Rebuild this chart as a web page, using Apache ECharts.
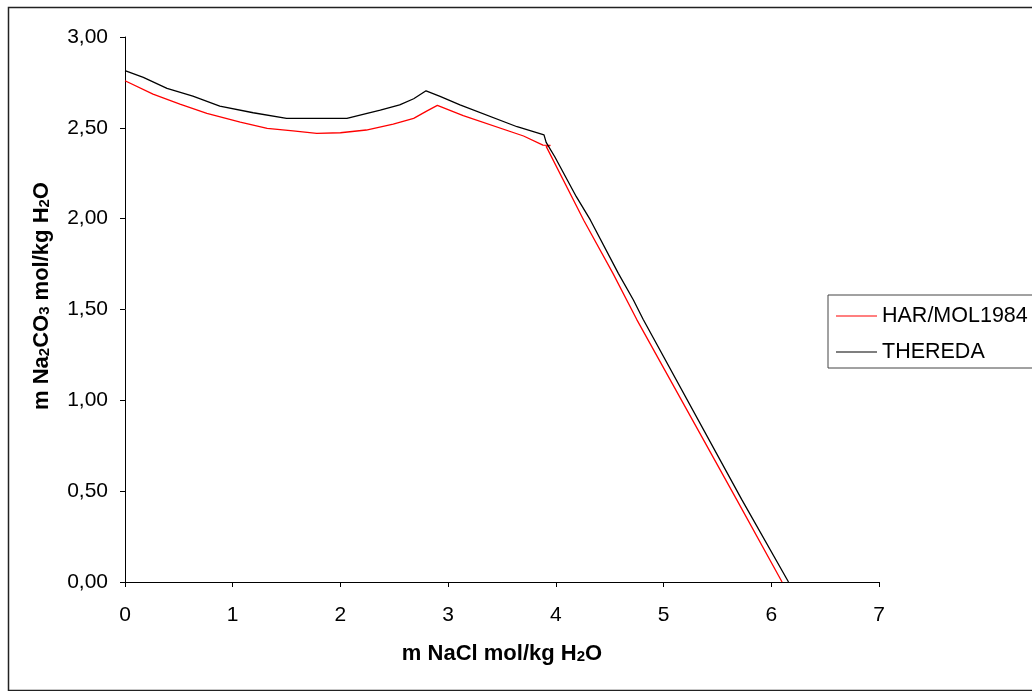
<!DOCTYPE html>
<html>
<head>
<meta charset="utf-8">
<script src="https://cdn.jsdelivr.net/npm/echarts@6/dist/echarts.min.js"></script>
<style>
  html, body { margin: 0; padding: 0; background: #fff; }
  #chart { width: 1032px; height: 691px; }
</style>
</head>
<body>
<div id="chart"></div>
<script>
// Solubility of Na2CO3 in NaCl solutions: [m NaCl, m Na2CO3] in mol/kg H2O
const harMol1984 = [
  [0.00, 2.759], [0.26, 2.686], [0.51, 2.631], [0.76, 2.580], [1.07, 2.532],
  [1.32, 2.497], [1.56, 2.483], [1.78, 2.470], [2.00, 2.473], [2.24, 2.488],
  [2.49, 2.521], [2.68, 2.552], [2.80, 2.592], [2.90, 2.624], [3.14, 2.567],
  [3.70, 2.455], [3.88, 2.405], [3.95, 2.403], [3.91, 2.398], [4.26, 1.990],
  [4.53, 1.699], [4.75, 1.446], [5.68, 0.452], [6.10, 0.000]
];
const thereda = [
  [0.00, 2.815], [0.17, 2.778], [0.39, 2.717], [0.63, 2.675], [0.88, 2.620],
  [1.19, 2.583], [1.50, 2.552], [2.06, 2.552], [2.37, 2.598], [2.55, 2.626],
  [2.68, 2.660], [2.795, 2.704], [2.925, 2.673], [3.11, 2.626], [3.64, 2.506],
  [3.89, 2.461], [3.91, 2.420], [3.99, 2.341], [4.19, 2.121], [4.32, 1.993],
  [4.58, 1.699], [4.72, 1.552], [4.81, 1.446], [5.725, 0.455], [6.16, 0.000]
];
const seriesNames = ['HAR/MOL1984', 'THEREDA'];
const seriesColors = ['#ff0000', '#000000'];
const xTicks = { min: 0, max: 7, step: 1 };
const yTicks = { min: 0, max: 3, step: 0.5 };

const FONT = '"Liberation Sans", Arial, sans-serif';
const titleRich = {
  b: { fontFamily: FONT, fontWeight: 'bold', fontSize: 22, color: '#000' },
  s: { fontFamily: FONT, fontWeight: 'bold', fontSize: 15, color: '#000', padding: [6, 0, 0, 0] }
};

const chart = echarts.init(document.getElementById('chart'), null, { renderer: 'canvas' });
chart.setOption({
  animation: false,
  backgroundColor: '#fff',
  grid: { left: 125, right: 153, top: 37, bottom: 109, containLabel: false },
  graphic: [{
    type: 'rect', left: 6, top: 5, silent: true,
    shape: { x: 0, y: 0, width: 1040, height: 683 },
    style: { fill: 'none', stroke: '#222', lineWidth: 1.5 }
  }],
  legend: {
    orient: 'vertical', left: 828, top: 295,
    data: seriesNames.map(n => ({ name: n, icon: 'rect' })),
    itemWidth: 41, itemHeight: 1, itemGap: 14,
    padding: [10, 30, 5, 8],
    borderColor: '#444', borderWidth: 1,
    textStyle: { fontFamily: FONT, fontSize: 21.5, color: '#000' }
  },
  xAxis: {
    type: 'value', min: xTicks.min, max: xTicks.max, interval: xTicks.step,
    name: '{b|m NaCl mol/kg H}{s|2}{b|O}',
    nameLocation: 'middle', nameGap: 61,
    nameTextStyle: { rich: titleRich },
    axisLine: { lineStyle: { color: '#000', width: 1 } },
    axisTick: { show: true, length: 5, lineStyle: { color: '#000' } },
    axisLabel: { margin: 23, fontFamily: FONT, fontSize: 21, color: '#000',
      formatter: v => String(v) },
    splitLine: { show: false }
  },
  yAxis: {
    type: 'value', min: yTicks.min, max: yTicks.max, interval: yTicks.step,
    name: '{b|m Na}{s|2}{b|CO}{s|3}{b| mol/kg H}{s|2}{b|O}',
    nameLocation: 'middle', nameGap: 72, nameRotate: 90,
    nameTextStyle: { rich: titleRich, padding: [0, 0, 0, 27] },
    axisLine: { show: true, lineStyle: { color: '#000', width: 1 } },
    axisTick: { show: true, length: 5, lineStyle: { color: '#000' } },
    axisLabel: { margin: 17, fontFamily: FONT, fontSize: 21, color: '#000',
      formatter: v => v.toFixed(2).replace('.', ',') },
    splitLine: { show: false }
  },
  series: [
    { name: seriesNames[0], type: 'line', data: harMol1984, symbol: 'none',
      lineStyle: { color: seriesColors[0], width: 1.3 }, itemStyle: { color: seriesColors[0] } },
    { name: seriesNames[1], type: 'line', data: thereda, symbol: 'none',
      lineStyle: { color: seriesColors[1], width: 1.3 }, itemStyle: { color: seriesColors[1] } }
  ]
});
</script>
</body>
</html>
